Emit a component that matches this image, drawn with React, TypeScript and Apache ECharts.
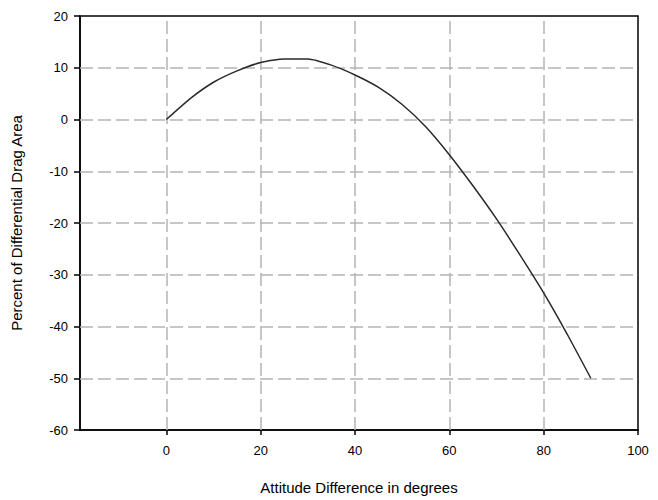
import React, { useEffect, useRef } from "react";
import * as echarts from "echarts";

const attitudeDeg = [0, 5, 10, 15, 20, 25, 30, 35, 40, 45, 50, 55, 60, 65, 70, 75, 80, 85, 90];
const dragPct = [0, 4.0, 7.2, 9.4, 11.0, 11.7, 11.7, 10.5, 8.6, 6.2, 2.9, -1.4, -6.8, -12.8, -19.2, -26.2, -33.5, -41.5, -50];
const xTicks = [0, 20, 40, 60, 80, 100];
const xGridLines = [0, 20, 40, 60, 80];
const yGridLines = [10, 0, -10, -20, -30, -40, -50];

export default function App() {
  const ref = useRef<HTMLDivElement>(null);
  useEffect(() => {
    const chart = echarts.init(ref.current!, null, { renderer: "svg" });
    const font = "'Liberation Sans', Arial, sans-serif";
    const gridLine = { color: "#b4b4b4", width: 1.5, type: [13, 5] as number[] };
    chart.setOption({
      animation: false,
      backgroundColor: "#fff",
      grid: { left: 80, top: 16, right: 20, bottom: 68, show: true, borderColor: "#000", borderWidth: 1.5, backgroundColor: "transparent" },
      xAxis: {
        type: "value",
        min: -18.3,
        max: 100,
        name: "Attitude Difference in degrees",
        nameLocation: "middle",
        nameGap: 50,
        nameTextStyle: { fontFamily: font, fontSize: 15, color: "#000" },
        axisLine: { show: true, onZero: false, lineStyle: { color: "#000", width: 1.5 } },
        axisTick: { show: true, length: 5, customValues: xTicks, lineStyle: { color: "#000", width: 1.5 } },
        axisLabel: { customValues: xTicks, fontFamily: font, fontSize: 13, color: "#000", margin: 14 },
        splitLine: { show: false },
      },
      yAxis: {
        type: "value",
        min: -60,
        max: 20,
        interval: 10,
        name: "Percent of Differential Drag Area",
        nameLocation: "middle",
        nameGap: 56,
        nameTextStyle: { fontFamily: font, fontSize: 15, color: "#000" },
        axisLine: { show: true, onZero: false, lineStyle: { color: "#000", width: 1.5 } },
        axisTick: { show: true, length: 6, lineStyle: { color: "#000", width: 1.5 } },
        axisLabel: { fontFamily: font, fontSize: 13, color: "#000", margin: 12 },
        splitLine: { show: false },
      },
      series: [
        {
          type: "line",
          data: attitudeDeg.map((x, i) => [x, dragPct[i]]),
          showSymbol: false,
          symbol: "none",
          smooth: 0.2,
          lineStyle: { color: "#2a2a2a", width: 1.5 },
          z: 3,
          markLine: {
            silent: true,
            symbol: "none",
            label: { show: false },
            lineStyle: gridLine,
            z: 1,
            data: [
              ...xGridLines.map((v) => ({ xAxis: v })),
              ...yGridLines.map((v) => ({ yAxis: v })),
            ],
          },
        },
      ],
    });
    return () => chart.dispose();
  }, []);
  return <div ref={ref} style={{ width: 658, height: 500, position: "absolute", left: 0, top: 0 }} />;
}
